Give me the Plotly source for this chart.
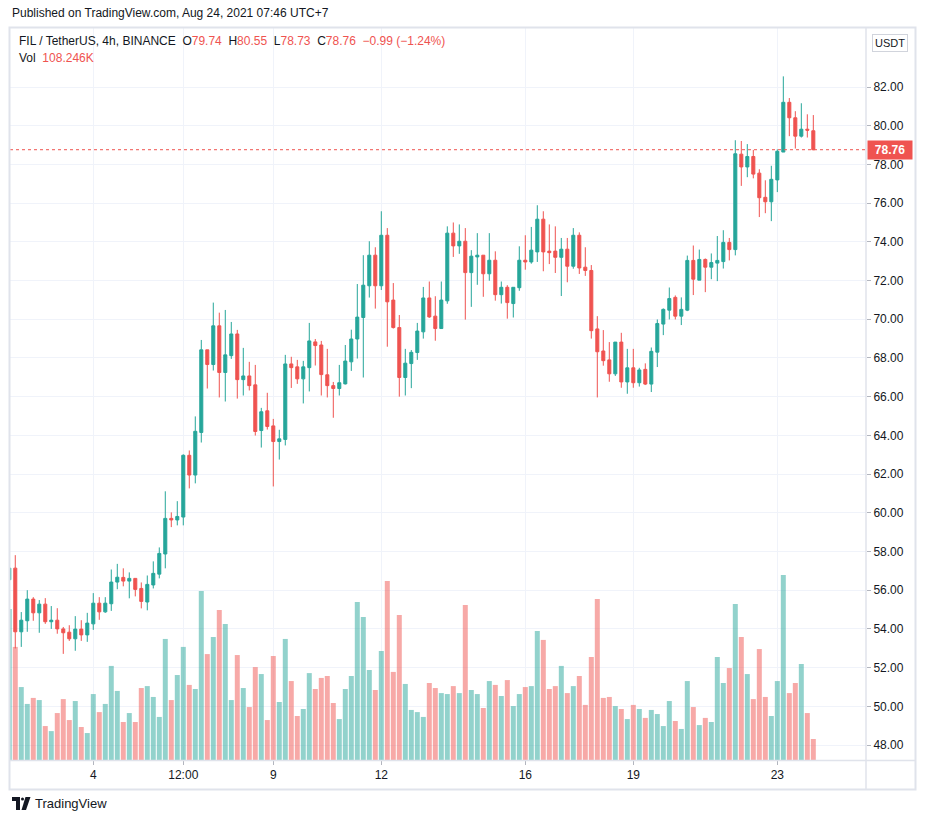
import plotly.graph_objects as go

# 4h candles, FIL/USDT Binance, Aug 1 - Aug 24 2021
bars = list(range(135))
opens = [56.54, 57.14, 53.85, 54.42, 55.54, 54.83, 55.28, 54.37, 54.45, 54.00,
         53.83, 53.49, 53.99, 53.69, 54.26, 55.33, 54.88, 55.30, 56.42, 56.66,
         56.47, 56.61, 56.09, 55.39, 56.27, 56.83, 57.87, 59.71, 59.63, 59.78,
         62.97, 61.95, 64.15, 68.42, 67.66, 69.66, 67.25, 68.12, 69.24, 66.88,
         67.07, 66.61, 64.25, 65.27, 64.49, 63.68, 63.79, 67.69, 67.54, 66.92,
         67.50, 68.83, 68.67, 67.13, 66.57, 66.42, 66.66, 67.80, 68.98, 70.09,
         71.73, 73.31, 71.73, 74.34, 70.99, 69.57, 66.99, 67.71, 68.28, 69.35,
         71.10, 70.16, 69.52, 70.95, 74.45, 73.79, 74.03, 72.41, 73.22, 73.31,
         72.35, 73.05, 71.27, 71.65, 70.81, 71.63, 73.05, 72.96, 73.48, 75.17,
         73.52, 73.52, 73.20, 73.62, 72.74, 74.34, 72.69, 72.52, 69.50, 68.36,
         67.90, 67.18, 68.82, 66.76, 67.49, 66.72, 67.41, 66.65, 68.30, 69.75,
         70.47, 71.13, 70.16, 70.47, 73.04, 72.02, 73.09, 72.69, 72.90, 72.98,
         73.97, 73.60, 78.53, 77.87, 78.41, 77.55, 76.30, 76.07, 77.20, 78.64,
         81.21, 80.41, 79.46, 79.82, 79.74]
highs = [57.80, 57.81, 54.87, 56.00, 55.64, 55.49, 55.59, 55.18, 55.07, 54.10,
         54.19, 54.66, 54.45, 54.83, 55.85, 55.64, 55.64, 57.07, 57.36, 57.13,
         56.92, 56.61, 56.40, 56.76, 57.49, 58.21, 61.11, 60.02, 60.60, 63.02,
         63.22, 64.98, 68.93, 68.42, 70.86, 70.34, 70.48, 69.86, 69.45, 68.52,
         67.80, 67.64, 65.42, 66.20, 64.85, 64.29, 68.16, 68.06, 67.90, 67.85,
         69.81, 68.98, 68.88, 68.47, 66.76, 67.64, 68.67, 69.46, 71.82, 73.31,
         74.03, 73.72, 75.58, 74.71, 71.87, 70.22, 68.47, 68.41, 69.81, 71.67,
         71.95, 71.19, 71.95, 74.80, 75.00, 74.90, 74.71, 73.57, 74.45, 73.31,
         74.45, 73.51, 71.95, 71.76, 71.65, 73.77, 74.34, 74.77, 75.89, 75.58,
         74.90, 74.80, 74.20, 74.20, 74.71, 74.49, 73.72, 72.80, 70.16, 69.44,
         68.82, 68.82, 69.30, 68.47, 68.47, 67.49, 67.72, 68.54, 69.99, 70.56,
         71.64, 71.23, 71.13, 73.29, 73.81, 73.60, 73.14, 73.40, 74.30, 74.60,
         74.20, 79.25, 79.21, 79.05, 78.75, 77.75, 77.18, 77.93, 78.78, 82.55,
         81.43, 80.75, 81.16, 80.59, 80.55]
lows = [56.00, 52.99, 53.07, 53.85, 54.42, 53.80, 54.26, 54.00, 53.75, 52.71,
        53.38, 52.87, 53.38, 53.33, 53.95, 54.47, 54.83, 54.93, 56.05, 56.20,
        55.58, 55.68, 55.06, 54.96, 56.09, 56.61, 57.13, 59.26, 59.35, 59.35,
        61.26, 61.52, 63.63, 66.42, 67.35, 65.96, 65.75, 67.95, 65.90, 66.06,
        66.32, 63.99, 63.37, 64.30, 61.36, 62.75, 63.48, 66.45, 66.66, 65.65,
        66.27, 67.61, 66.06, 65.96, 64.91, 66.06, 66.63, 67.33, 67.97, 66.99,
        71.12, 70.55, 71.51, 68.58, 69.52, 66.00, 66.06, 66.44, 67.90, 69.00,
        70.07, 68.89, 69.52, 70.80, 73.22, 73.38, 69.98, 70.64, 71.78, 71.16,
        71.99, 70.96, 70.81, 70.03, 70.09, 71.47, 72.56, 72.87, 72.96, 72.48,
        72.85, 72.39, 71.20, 71.91, 72.61, 72.34, 72.24, 69.00, 65.96, 67.60,
        66.77, 67.07, 66.46, 66.15, 66.46, 66.52, 66.60, 66.24, 67.53, 69.18,
        69.99, 69.99, 69.70, 70.42, 71.25, 72.02, 71.40, 72.07, 71.97, 72.62,
        73.04, 73.30, 76.89, 77.34, 77.28, 75.28, 75.48, 75.07, 76.57, 78.64,
        79.46, 78.82, 79.39, 79.39, 78.73]
closes = [57.14, 53.85, 54.45, 55.54, 54.83, 55.28, 54.37, 54.45, 54.00, 53.80,
          53.49, 53.99, 53.69, 54.30, 55.33, 54.88, 55.33, 56.42, 56.67, 56.47,
          56.61, 56.04, 55.42, 56.30, 56.87, 57.90, 59.71, 59.63, 59.81, 62.97,
          61.95, 64.21, 68.42, 67.66, 69.66, 67.25, 68.16, 69.24, 66.88, 67.07,
          66.57, 64.20, 65.22, 64.46, 63.68, 63.82, 67.69, 67.50, 66.92, 67.54,
          68.88, 68.64, 67.14, 66.57, 66.42, 66.72, 67.84, 68.98, 70.11, 71.76,
          73.31, 71.73, 74.34, 70.90, 69.57, 66.99, 67.73, 68.29, 69.39, 71.10,
          70.12, 69.52, 70.99, 74.45, 73.79, 74.03, 72.41, 73.26, 73.31, 72.35,
          73.05, 71.27, 71.65, 70.86, 71.65, 73.05, 72.96, 73.57, 75.17, 73.48,
          73.44, 73.20, 73.62, 72.74, 74.34, 72.65, 72.52, 69.41, 68.32, 67.86,
          67.18, 68.82, 66.76, 67.49, 66.72, 67.38, 66.65, 68.34, 69.78, 70.51,
          71.07, 70.16, 70.51, 73.04, 72.07, 73.09, 72.69, 72.93, 73.04, 73.97,
          73.60, 78.55, 77.87, 78.41, 77.50, 76.28, 76.07, 77.23, 78.68, 81.21,
          80.41, 79.46, 79.82, 79.77, 78.76]
# volume in thousands of FIL
volumes = [778, 583, 376, 289, 320, 309, 175, 149, 242, 314,
           206, 304, 170, 139, 340, 247, 289, 485, 356, 196,
           242, 196, 371, 381, 325, 222, 624, 309, 438, 583,
           387, 366, 871, 546, 634, 773, 701, 309, 541, 371,
           273, 479, 443, 206, 536, 299, 624, 407, 227, 263,
           448, 366, 423, 433, 294, 211, 366, 433, 814, 737,
           464, 361, 562, 923, 454, 747, 392, 258, 247, 222,
           397, 371, 345, 340, 381, 345, 799, 361, 340, 268,
           407, 387, 330, 412, 278, 340, 376, 381, 665, 619,
           366, 381, 485, 345, 381, 433, 284, 531, 830, 320,
           325, 278, 263, 211, 284, 263, 217, 258, 237, 175,
           304, 201, 160, 407, 273, 180, 217, 196, 531, 397,
           474, 804, 634, 443, 314, 572, 325, 227, 407, 954,
           345, 397, 495, 242, 108.246]

tick_pos = [14, 29, 44, 62, 86, 104, 128]
tick_text = ['4', '12:00', '9', '12', '16', '19', '23']
price_ticks = [48, 50, 52, 54, 56, 58, 60, 62, 64, 66, 68, 70, 72, 74, 76, 78, 80, 82]
last_price = 78.76

UP = '#26a69a'
DOWN = '#ef5350'
GRID = '#f0f3fa'
FRAME = '#e0e3eb'
TEXT = '#131722'
FONT = 'Liberation Sans, Arial, sans-serif'


def px(x):
    return (x - 10) / 856


def py(y):
    return (760 - y) / 732


vol_colors = ['rgba(38,166,154,0.5)' if c >= o else 'rgba(239,83,80,0.5)'
              for o, c in zip(opens, closes)]

fig = go.Figure()
fig.add_trace(go.Bar(x=bars, y=volumes, marker=dict(color=vol_colors, line=dict(width=0)),
                     yaxis='y', hoverinfo='skip'))
fig.add_trace(go.Candlestick(x=bars, open=opens, high=highs, low=lows, close=closes, yaxis='y2',
                             increasing=dict(line=dict(color=UP, width=1), fillcolor=UP),
                             decreasing=dict(line=dict(color=DOWN, width=1), fillcolor=DOWN)))

shapes = [
    dict(type='line', xref='paper', yref='y2', x0=0, x1=1, y0=last_price, y1=last_price,
         line=dict(color=DOWN, width=1, dash='dot')),
    # frame
    dict(type='rect', xref='paper', yref='paper', x0=px(9.5), x1=px(915.5), y0=py(789.5), y1=py(27.5),
         line=dict(color=FRAME, width=2)),
    dict(type='line', xref='paper', yref='paper', x0=px(866), x1=px(866), y0=py(789.5), y1=py(27.5),
         line=dict(color=FRAME, width=1.5)),
    dict(type='line', xref='paper', yref='paper', x0=px(9.5), x1=px(915.5), y0=py(760.5), y1=py(760.5),
         line=dict(color=FRAME, width=1.5)),
    # logo mark
    dict(type='rect', xref='paper', yref='paper', x0=px(12), x1=px(20), y0=py(801), y1=py(797),
         fillcolor=TEXT, line=dict(width=0)),
    dict(type='rect', xref='paper', yref='paper', x0=px(16), x1=px(20), y0=py(810), y1=py(797),
         fillcolor=TEXT, line=dict(width=0)),
    dict(type='circle', xref='paper', yref='paper', x0=px(21), x1=px(24), y0=py(800.5), y1=py(797.5),
         fillcolor=TEXT, line=dict(width=0)),
    dict(type='path', xref='paper', yref='paper',
         path='M {} {} L {} {} L {} {} L {} {} Z'.format(px(25.5), py(797), px(30.5), py(797),
                                                         px(26), py(810), px(21.5), py(810)),
         fillcolor=TEXT, line=dict(width=0)),
]

legend_line = ('FIL / TetherUS, 4h, BINANCE&nbsp; O<span style="color:#ef5350">79.74</span>'
               '&nbsp; H<span style="color:#ef5350">80.55</span>'
               '&nbsp; L<span style="color:#ef5350">78.73</span>'
               '&nbsp; C<span style="color:#ef5350">78.76</span>'
               '&nbsp; <span style="color:#ef5350">\u22120.99 (\u22121.24%)</span>')

annotations = [
    dict(text='Published on TradingView.com, Aug 24, 2021 07:46 UTC+7', x=px(10), y=py(13),
         xref='paper', yref='paper', xanchor='left', yanchor='middle', showarrow=False,
         font=dict(size=12, color=TEXT)),
    dict(text=legend_line, x=px(17), y=py(41), xref='paper', yref='paper', xanchor='left',
         yanchor='middle', showarrow=False, font=dict(size=12, color=TEXT)),
    dict(text='Vol&nbsp; <span style="color:#ef5350">108.246K</span>', x=px(17), y=py(58),
         xref='paper', yref='paper', xanchor='left', yanchor='middle', showarrow=False,
         font=dict(size=12, color=TEXT)),
    dict(text='USDT', x=px(890), y=py(43), xref='paper', yref='paper', xanchor='center',
         yanchor='middle', showarrow=False, font=dict(size=11, color=TEXT),
         bordercolor='#d1d4dc', borderwidth=1, borderpad=2, bgcolor='white'),
    dict(text='<b>%.2f</b>' % last_price, x=1, y=last_price, xref='paper', yref='y2',
         xanchor='left', yanchor='middle', showarrow=False, xshift=1,
         font=dict(size=12, color='white'), bgcolor=DOWN, borderpad=2, width=40),
    dict(text='TradingView', x=px(33), y=py(803), xref='paper', yref='paper', xanchor='left',
         yanchor='middle', showarrow=False, font=dict(size=13, color=TEXT)),
]

fig.update_layout(
    width=926, height=822,
    margin=dict(l=10, r=60, t=28, b=62),
    paper_bgcolor='white', plot_bgcolor='white',
    font=dict(family=FONT, color=TEXT),
    showlegend=False, bargap=0.17, boxgap=0.28,
    xaxis=dict(range=[0.12, 142.78], tickvals=tick_pos, ticktext=tick_text,
               showgrid=True, gridcolor=GRID, zeroline=False, showline=False,
               ticks='outside', ticklen=4, tickcolor='#b2b5be',
               tickfont=dict(size=12, color=TEXT, family='Liberation Sans Narrow, Liberation Sans, sans-serif'),
               rangeslider=dict(visible=False)),
    yaxis=dict(range=[0, 3773.5], visible=False, showgrid=False, zeroline=False),
    yaxis2=dict(overlaying='y', side='right', range=[47.226, 85.049], tickvals=price_ticks,
                tickformat='.2f', showgrid=True, gridcolor=GRID, zeroline=False, showline=False,
                ticks='outside', ticklen=4, tickcolor='#b2b5be',
                tickfont=dict(size=12, color=TEXT)),
    shapes=shapes,
    annotations=annotations,
)

fig.write_html("out.html", config={'displayModeBar': False},
               post_script="document.body.style.margin='0';")
